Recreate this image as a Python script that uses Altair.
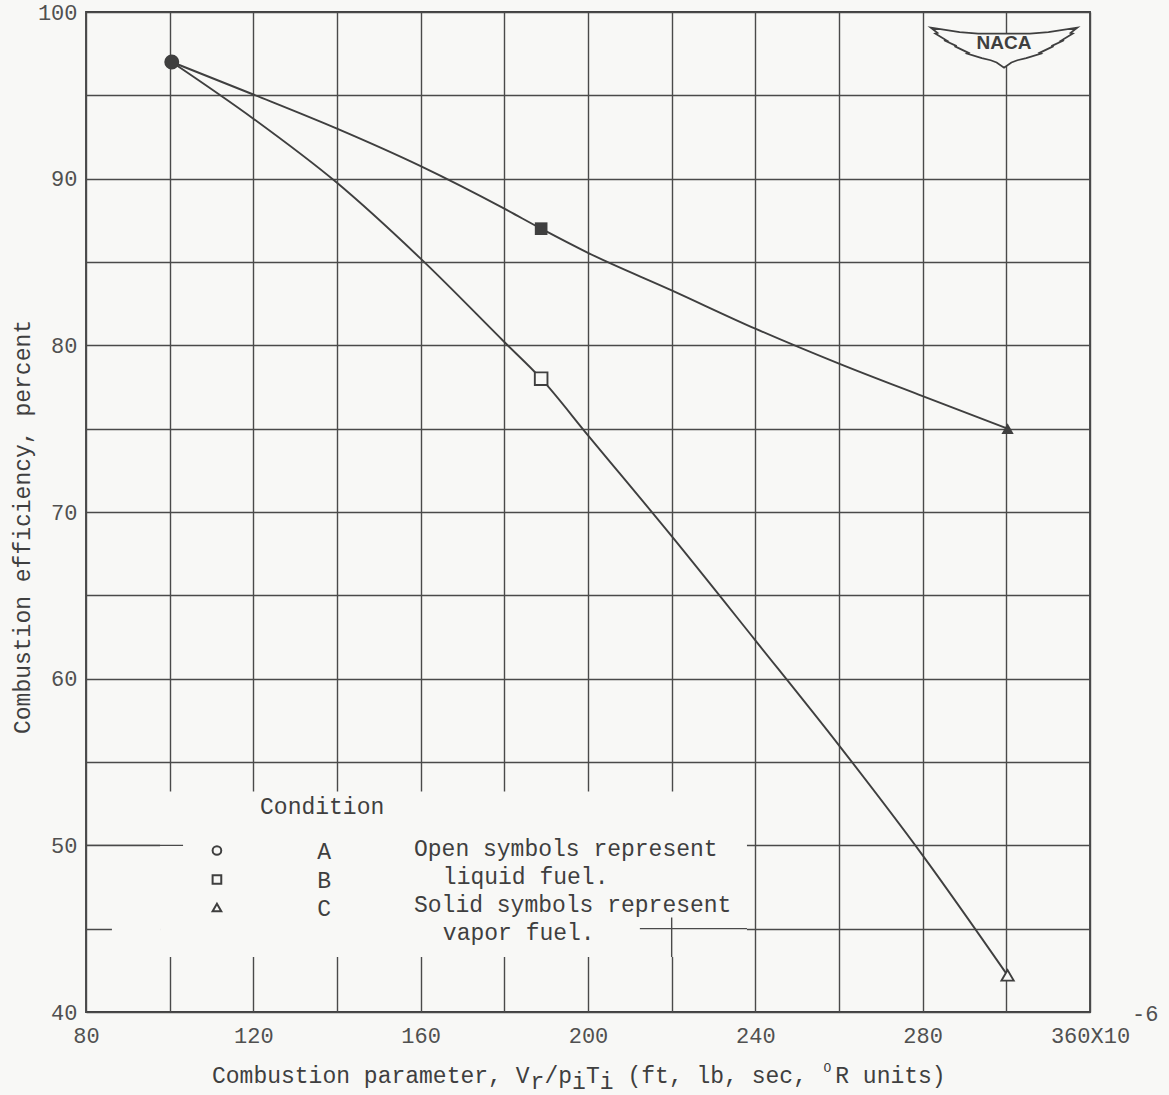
import altair as alt
import pandas as pd

# ---------------- data ----------------
# plotted symbols
cond = ["A", "A", "B", "B", "C", "C"]
fuel = ["liquid", "vapor", "liquid", "vapor", "liquid", "vapor"]
param = [100.5, 100.5, 188.8, 188.8, 300.3, 300.3]
eff = [97.0, 97.0, 78.0, 87.0, 42.2, 75.0]

# faired curves
vapor_x = [100.5, 120, 140, 160, 180, 188.8, 200, 220, 240, 260, 280, 300.3]
vapor_y = [97.0, 95.05, 93.0, 90.75, 88.2, 87.0, 85.55, 83.3, 81.0, 78.9, 76.95, 75.0]
liquid_x = [100.5, 120, 140, 160, 180, 188.8, 200, 220, 240, 260, 280, 300.3]
liquid_y = [97.0, 93.6, 89.75, 85.2, 80.2, 78.0, 74.6, 68.55, 62.3, 56.0, 49.4, 42.2]

x_ticks = list(range(80, 321, 20))
y_ticks = list(range(40, 101, 5))

legend_conditions = ["A", "B", "C"]
legend_notes = ["Open symbols represent", "liquid fuel.",
                "Solid symbols represent", "vapor fuel."]

# ---------------- style ----------------
BG = "#f8f8f6"
INK = "#3f3f3f"
GRID = "#4a4a4a"
MONO = "Liberation Mono"
W, H = 1004, 1000

xs = alt.Scale(domain=[80, 320], nice=False, zero=False)
ys = alt.Scale(domain=[40, 100], nice=False, zero=False)

x_axis = alt.Axis(
    values=x_ticks,
    labelExpr="datum.value % 40 != 0 ? '' : (datum.value == 320 ? '360X10' : datum.label)",
    grid=True, ticks=False, domain=False, title=None,
    labelFont=MONO, labelFontSize=22, labelColor="#505050",
    labelPadding=13, labelFlush=False, labelOverlap=False,
    gridColor=GRID, gridWidth=1.4, gridOpacity=1,
)
y_axis = alt.Axis(
    values=y_ticks,
    labelExpr="datum.value % 10 != 0 ? '' : datum.label",
    grid=True, ticks=False, domain=False, title=None,
    labelFont=MONO, labelFontSize=22, labelColor="#505050",
    labelPadding=9, labelOverlap=False,
    gridColor=GRID, gridWidth=1.4, gridOpacity=1,
)


def X(field="x"):
    return alt.X(f"{field}:Q", scale=xs, axis=x_axis)


def Y(field="y"):
    return alt.Y(f"{field}:Q", scale=ys, axis=y_axis)


one = pd.DataFrame({"k": [0]})

# blanked area behind the pasted-in legend (grid erased)
blank_df = pd.DataFrame({
    "x": [97.7, 86.2], "x2": [238.0, 97.7],
    "y": [43.3, 44.8], "y2": [53.23, 45.2],
})
blanks = alt.Chart(blank_df).mark_rect(color=BG).encode(
    x=X(), x2="x2:Q", y=Y(), y2="y2:Q",
)

# grid pieces that remain visible inside that area
keep_df = pd.DataFrame({
    "x": [80, 212.4, 220], "x2": [103.2, 238.0, 220],
    "y": [50, 45, 43.3], "y2": [50, 45, 45.67],
})
keeps = alt.Chart(keep_df).mark_rule(color=GRID, strokeWidth=1.4).encode(
    x=X(), x2="x2:Q", y=Y(), y2="y2:Q",
)

curve_df = pd.concat([
    pd.DataFrame({"x": vapor_x, "y": vapor_y, "series": "vapor",
                  "o": range(len(vapor_x))}),
    pd.DataFrame({"x": liquid_x, "y": liquid_y, "series": "liquid",
                  "o": range(len(liquid_x))}),
])
curves = alt.Chart(curve_df).mark_line(
    interpolate="monotone", color=INK, strokeWidth=1.9
).encode(x=X(), y=Y(), detail="series:N", order="o:Q")

pts = pd.DataFrame({"cond": cond, "fuel": fuel, "x": param, "y": eff})
shape_scale = alt.Scale(domain=["A", "B", "C"],
                        range=["circle", "square", "triangle-up"])
open_pts = alt.Chart(pts).transform_filter("datum.fuel == 'liquid'").mark_point(
    filled=True, fill=BG, stroke=INK, strokeWidth=1.9, opacity=1
).encode(
    x=X(), y=Y(),
    shape=alt.Shape("cond:N", scale=shape_scale, legend=None),
    size=alt.Size("cond:N", scale=alt.Scale(domain=["A", "B", "C"],
                                            range=[170, 150, 210]), legend=None),
)
solid_pts = alt.Chart(pts).transform_filter("datum.fuel == 'vapor'").mark_point(
    filled=True, color=INK, opacity=1
).encode(
    x=X(), y=Y(),
    shape=alt.Shape("cond:N", scale=shape_scale, legend=None),
    size=alt.Size("cond:N", scale=alt.Scale(domain=["A", "B", "C"],
                                            range=[185, 190, 235]), legend=None),
)

# ---------------- legend (inside the plot) ----------------
leg_df = pd.DataFrame({"cond": legend_conditions,
                       "x": [111.3] * 3, "xl": [136.9] * 3,
                       "y": [49.69, 47.95, 46.27]})
leg_sym = alt.Chart(leg_df).mark_point(
    filled=False, color=INK, strokeWidth=2, size=75, opacity=1
).encode(
    x=X(), y=Y(),
    shape=alt.Shape("cond:N", scale=shape_scale, legend=None),
)
leg_letters = alt.Chart(leg_df).mark_text(
    font=MONO, fontSize=23, color=INK, align="center", baseline="middle", dy=1
).encode(x=X("xl"), y=Y(), text="cond:N")

note_df = pd.DataFrame({
    "t": ["Condition"] + legend_notes,
    "x": [121.6, 158.4, 165.3, 158.4, 165.3],
    "y": [52.33, 49.81, 48.13, 46.45, 44.77],
})
notes = alt.Chart(note_df).mark_text(
    font=MONO, fontSize=23, color=INK, align="left", baseline="middle"
).encode(x=X(), y=Y(), text="t:N")

# ---------------- NACA logo ----------------
wing = ("M-0.99,-0.27 L-0.6,-0.21 L-0.35,-0.19 L0.35,-0.19 L0.6,-0.21 L0.99,-0.27 "
        "L0.9,-0.2 L0.93,-0.19 L0.78,-0.1 L0.81,-0.1 L0.64,-0.02 L0.67,-0.02 "
        "L0.48,0.07 L0.5,0.08 L0.3,0.14 L0.18,0.17 L0.1,0.2 L0,0.27 "
        "L-0.1,0.2 L-0.18,0.17 L-0.3,0.14 L-0.5,0.08 L-0.48,0.07 "
        "L-0.67,-0.02 L-0.64,-0.02 L-0.81,-0.1 L-0.78,-0.1 L-0.93,-0.19 "
        "L-0.9,-0.2 Z")
logo_df = pd.DataFrame({"x": [299.45], "y": [97.86], "yt": [98.15]})
logo = alt.Chart(logo_df).mark_point(
    shape=wing, size=148 * 148, filled=True, fill=BG, stroke=INK,
    strokeWidth=1.8, opacity=1
).encode(x=X(), y=Y())
logo_txt = alt.Chart(logo_df).mark_text(
    font="Liberation Sans", fontWeight="bold", fontSize=19, color=INK,
    align="center", baseline="middle"
).encode(x=X(), y=Y("yt"), text=alt.value("NACA"))

# ---------------- axis titles and exponent ----------------
exp_df = pd.DataFrame({"x": [320], "y": [40]})
exp_txt = alt.Chart(exp_df).mark_text(
    font=MONO, fontSize=22, color="#505050", align="left", baseline="middle",
    dx=42, dy=2
).encode(x=X(), y=Y(), text=alt.value("-6"))

y_title = alt.Chart(one).mark_text(
    font=MONO, fontSize=23, color=INK, align="center", baseline="middle",
    angle=270
).encode(x=alt.value(-63), y=alt.value(515),
         text=alt.value("Combustion efficiency, percent"))

slot = 13.85
x0, ybase = 126, 1064
pieces = [
    (0, "Combustion parameter, V", 0, 23),
    (23, "r", 6, 23),
    (24, "/p", 0, 23),
    (26, "i", 6, 23),
    (27, "T", 0, 23),
    (28, "i", 6, 23),
    (30, "(ft, lb, sec,", 0, 23),
    (44.15, "O", -8, 13),
    (45, "R units)", 0, 23),
]
title_layers = [
    alt.Chart(one).mark_text(
        font=MONO, fontSize=fs, color=INK, align="left", baseline="middle"
    ).encode(x=alt.value(x0 + s * slot), y=alt.value(ybase + dy),
             text=alt.value(t))
    for s, t, dy, fs in pieces
]

chart = alt.layer(
    blanks, keeps, curves, open_pts, solid_pts,
    leg_sym, leg_letters, notes,
    logo, logo_txt, exp_txt, y_title, *title_layers
).properties(
    width=W, height=H,
    background=BG,
    autosize=alt.AutoSizeParams(type="none"),
    padding={"left": 86, "top": 12, "right": 79, "bottom": 83},
).configure_view(
    stroke=INK, strokeWidth=1.8
)

chart.save("out.html", embed_options={"renderer": "svg", "actions": False})
